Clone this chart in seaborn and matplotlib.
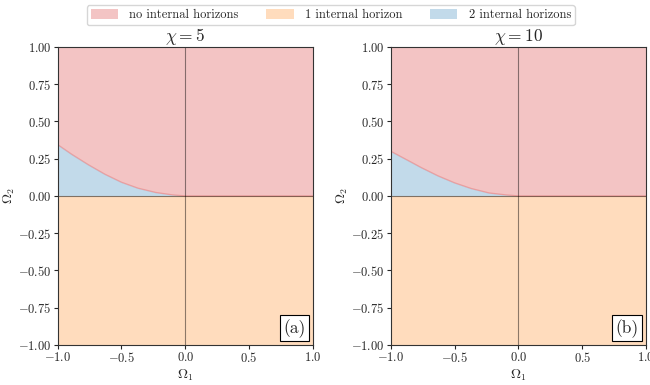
import numpy as np
import pandas as pd
import matplotlib
matplotlib.use("Agg")
import matplotlib.pyplot as plt
import seaborn as sns
from matplotlib.ticker import FuncFormatter
from matplotlib.patches import Patch

# ---- data ----
omega1 = [-1.00, -0.89, -0.76, -0.63, -0.50, -0.37, -0.23, -0.10, 0.00, 1.00]
boundary_chi5 = [0.345, 0.28, 0.21, 0.146, 0.092, 0.052, 0.023, 0.007, 0.0, 0.0]
boundary_chi10 = [0.30, 0.25, 0.19, 0.135, 0.088, 0.05, 0.02, 0.007, 0.0, 0.0]
chis = [5, 10]
panel_tags = ["(a)", "(b)"]
legend_labels = ["no internal horizons", "1 internal horizon", "2 internal horizons"]
ticks_x = [-1.0, -0.5, 0.0, 0.5, 1.0]
ticks_y = [-1.00, -0.75, -0.50, -0.25, 0.00, 0.25, 0.50, 0.75, 1.00]

sns.set_style("ticks")
plt.rcParams["font.family"] = ["cmr10", "DejaVu Serif"]
plt.rcParams["mathtext.fontset"] = "cm"
plt.rcParams["axes.formatter.use_mathtext"] = True

c_red, c_orange, c_blue = "#d62728", "#ff7f0e", "#1f77b4"
alpha = 0.27

fig = plt.figure(figsize=(6.5, 3.85), dpi=100)
axes = [fig.add_axes([0.0885, 0.104, 0.393, 0.774]),
        fig.add_axes([0.601, 0.104, 0.393, 0.774])]

for ax, chi, bnd, tag in zip(axes, chis, [boundary_chi5, boundary_chi10], panel_tags):
    df = pd.DataFrame({"Omega1": omega1, "Omega2": bnd})
    x = np.array(omega1)
    b = np.array(bnd)
    ax.fill_between(x, b, 1.0, color=c_red, alpha=alpha, lw=0)
    ax.fill_between(x, 0.0, b, color=c_blue, alpha=alpha, lw=0)
    ax.fill_between(x, -1.0, 0.0, color=c_orange, alpha=alpha, lw=0)
    sns.lineplot(data=df, x="Omega1", y="Omega2", ax=ax, color=c_red, alpha=0.25, lw=1.0)
    ax.axhline(0, color="black", lw=0.8, alpha=0.45)
    ax.axvline(0, color="black", lw=0.8, alpha=0.45)
    ax.set_xlim(-1, 1)
    ax.set_ylim(-1, 1)
    ax.set_xticks(ticks_x)
    ax.set_yticks(ticks_y)
    ax.xaxis.set_major_formatter(FuncFormatter(lambda v, p: r"$%.1f$" % v))
    ax.yaxis.set_major_formatter(FuncFormatter(lambda v, p: r"$%.2f$" % v))
    ax.tick_params(labelsize=9, length=3, width=0.8, pad=1.5)
    ax.set_xlabel(r"$\Omega_1$", fontsize=10)
    ax.set_ylabel(r"$\Omega_2$", fontsize=10)
    ax.xaxis.set_label_coords(0.5, -0.075)
    ax.yaxis.set_label_coords(-0.16, 0.5)
    ax.set_title(r"$\chi = %d$" % chi, fontsize=12.5, pad=-1)
    for s in ax.spines.values():
        s.set_linewidth(0.8)
        s.set_color("#333333")
    ax.text(0.972, 0.025, tag, transform=ax.transAxes, ha="right", va="bottom",
            fontsize=12.5, bbox=dict(boxstyle="square,pad=0.2", fc="white", ec="black", lw=0.8))

handles = [Patch(facecolor=c, alpha=alpha, edgecolor="none") for c in (c_red, c_orange, c_blue)]
fig.legend(handles, legend_labels, loc="upper center", bbox_to_anchor=(0.509, 1.003), ncol=3,
           fontsize=9, frameon=True, fancybox=True, edgecolor="#cccccc", handlelength=2.2,
           handleheight=0.9, columnspacing=2.2, borderpad=0.3, handletextpad=0.9)

fig.savefig("out.png", dpi=100)
